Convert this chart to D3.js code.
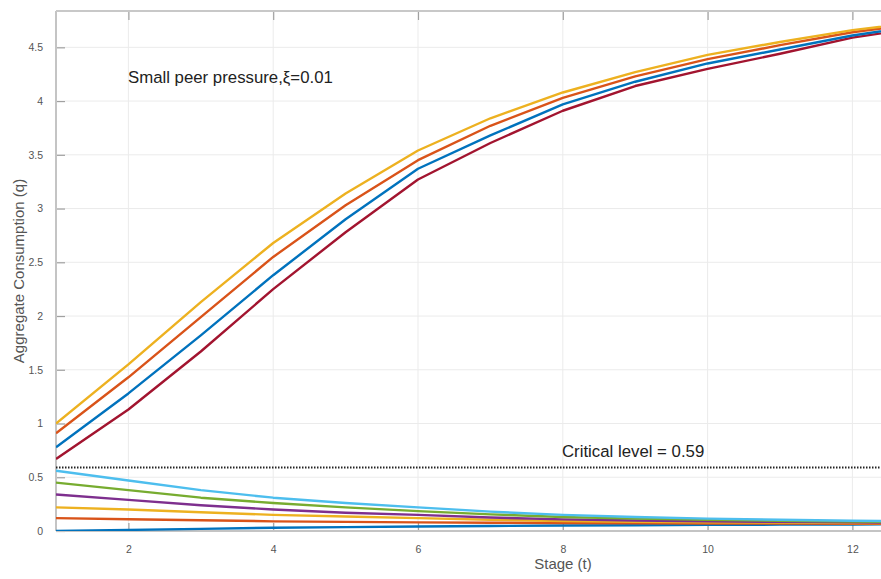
<!DOCTYPE html>
<html><head><meta charset="utf-8">
<script src="https://cdn.jsdelivr.net/npm/d3@7"></script>
<style>body{margin:0;background:#fff}svg{display:block}</style>
</head><body><svg id="c" width="881" height="579"></svg>
<script>
const stages = [1,2,3,4,5,6,7,8,9,10,11,12,13];
const xTicks = [2,4,6,8,10,12];
const yTicks = [0,0.5,1,1.5,2,2.5,3,3.5,4,4.5];
const criticalLevel = 0.59;
// upper group (above critical level)
const upYellow = [1.00,1.55,2.13,2.68,3.14,3.54,3.84,4.08,4.27,4.43,4.55,4.66,4.74];
const upOrange = [0.91,1.43,1.99,2.55,3.03,3.45,3.77,4.03,4.23,4.39,4.52,4.64,4.73];
const upBlue   = [0.78,1.28,1.82,2.38,2.90,3.37,3.68,3.97,4.18,4.35,4.48,4.61,4.71];
const upRed    = [0.67,1.13,1.67,2.25,2.78,3.27,3.61,3.91,4.14,4.30,4.44,4.59,4.69];
// lower group (below critical level)
const loLightBlue = [0.56,0.47,0.38,0.31,0.26,0.22,0.18,0.15,0.13,0.115,0.105,0.095,0.09];
const loGreen     = [0.45,0.38,0.31,0.26,0.22,0.185,0.155,0.13,0.115,0.105,0.095,0.088,0.083];
const loPurple    = [0.34,0.29,0.24,0.20,0.17,0.15,0.125,0.108,0.097,0.09,0.085,0.08,0.078];
const loYellow    = [0.22,0.20,0.175,0.15,0.135,0.12,0.105,0.093,0.086,0.081,0.078,0.075,0.073];
const loOrange    = [0.12,0.11,0.10,0.09,0.085,0.08,0.077,0.074,0.072,0.07,0.069,0.068,0.067];
const loBlue      = [0.0,0.01,0.02,0.03,0.036,0.042,0.047,0.051,0.054,0.057,0.059,0.061,0.062];

const series = [
  {v: loBlue, c: "#0072BD"},
  {v: loOrange, c: "#D95319"},
  {v: loYellow, c: "#EDB120"},
  {v: loPurple, c: "#7E2F8E"},
  {v: loGreen, c: "#77AC30"},
  {v: loLightBlue, c: "#4DBEEE"},
  {v: upRed, c: "#A2142F"},
  {v: upBlue, c: "#0072BD"},
  {v: upOrange, c: "#D95319"},
  {v: upYellow, c: "#EDB120"}
];

const svg = d3.select("#c");
const L = 56, T = 11, B = 531;
const x = d3.scaleLinear().domain([1, 13]).range([L, L + 12*72.4]);
const y = d3.scaleLinear().domain([0, 4.838]).range([B, T]);
const W = 881;

svg.append("defs").append("clipPath").attr("id","clip")
  .append("rect").attr("x", L).attr("y", T).attr("width", W - L).attr("height", B - T);

const font = "'Liberation Sans', Arial, sans-serif";
// grid
const grid = svg.append("g");
grid.selectAll("line.gx").data(xTicks).join("line")
  .attr("x1", d=>x(d)).attr("x2", d=>x(d)).attr("y1", T).attr("y2", B)
  .attr("stroke", "#ebebeb").attr("stroke-width", 1);
grid.selectAll("line.gy").data(yTicks).join("line")
  .attr("x1", L).attr("x2", W).attr("y1", d=>y(d)).attr("y2", d=>y(d))
  .attr("stroke", "#ebebeb").attr("stroke-width", 1);

// axes
const axL = d3.axisLeft(y).tickValues(yTicks).tickSize(-9).tickPadding(13).tickFormat(d3.format("~g"));
const axB = d3.axisBottom(x).tickValues(xTicks).tickSize(-8).tickPadding(15).tickFormat(d3.format("d"));
const axT = d3.axisTop(x).tickValues(xTicks).tickSize(-9).tickFormat("");

function style(g){
  g.select(".domain").remove();
  g.selectAll(".tick line").attr("stroke", "#a0a0a0").attr("stroke-width", 1.2);
  g.selectAll(".tick text").attr("fill", "#555").attr("font-size", 10.5).attr("font-family", font);
}
svg.append("g").attr("transform", `translate(${L},0)`).call(axL).call(style);
svg.append("g").attr("transform", `translate(0,${B})`).call(axB).call(style);
svg.append("g").attr("transform", `translate(0,${T})`).call(axT).call(style);

// box
svg.append("line").attr("x1", L).attr("x2", L).attr("y1", T).attr("y2", B).attr("stroke", "#c4c4c4").attr("stroke-width", 2);
svg.append("line").attr("x1", L).attr("x2", W).attr("y1", T).attr("y2", T).attr("stroke", "#c8c8c8").attr("stroke-width", 2);
svg.append("line").attr("x1", L).attr("x2", W).attr("y1", B).attr("y2", B).attr("stroke", "#c4c4c4").attr("stroke-width", 2);

// lines
const line = d3.line().x((d,i)=>x(stages[i])).y(d=>y(d));
const lg = svg.append("g").attr("clip-path", "url(#clip)");
lg.selectAll("path.s").data(series).join("path")
  .attr("d", d=>line(d.v)).attr("fill","none").attr("stroke", d=>d.c).attr("stroke-width", 2.4)
  .attr("stroke-linejoin","round");

// critical level
lg.append("line").attr("x1", L).attr("x2", W).attr("y1", y(criticalLevel)).attr("y2", y(criticalLevel))
  .attr("stroke", "#222").attr("stroke-width", 2).attr("stroke-dasharray", "1.5,1.5");

// annotations
svg.append("text").attr("x", 128).attr("y", 83).attr("font-family", font).attr("font-size", 16.8).attr("fill","#222")
  .text("Small peer pressure,\u03BE=0.01");
svg.append("text").attr("x", 562).attr("y", 457).attr("font-family", font).attr("font-size", 16.8).attr("fill","#222")
  .text("Critical level = 0.59");

// axis labels
svg.append("text").attr("x", 563).attr("y", 569).attr("text-anchor","middle").attr("font-family", font)
  .attr("font-size", 15).attr("fill","#555").text("Stage (t)");
svg.append("text").attr("transform", "translate(24,271) rotate(-90)").attr("text-anchor","middle").attr("font-family", font)
  .attr("font-size", 15).attr("fill","#555").text("Aggregate Consumption (q)");
</script></body></html>
